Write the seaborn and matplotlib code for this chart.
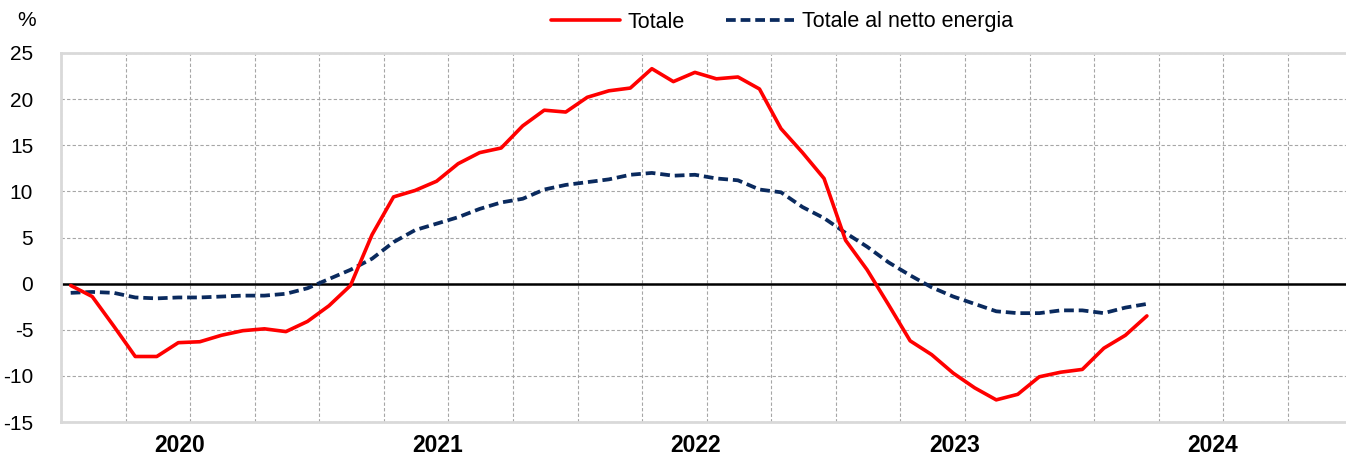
import numpy as np
import pandas as pd
import matplotlib
matplotlib.use("Agg")
import matplotlib.pyplot as plt
import seaborn as sns
from matplotlib import font_manager
from matplotlib.lines import Line2D

# Monthly data, Jan 2020 - Mar 2024 (var. % a/a)
totale = [-0.2, -1.4, -4.6, -7.9, -7.9, -6.4, -6.3, -5.6, -5.1, -4.9,
          -5.2, -4.1, -2.4, -0.2, 5.3, 9.4, 10.1, 11.1, 13.0, 14.2,
          14.7, 17.1, 18.8, 18.6, 20.2, 20.9, 21.2, 23.3, 21.9, 22.9,
          22.2, 22.4, 21.1, 16.8, 14.2, 11.4, 4.7, 1.5, -2.3, -6.2,
          -7.7, -9.7, -11.3, -12.6, -12.0, -10.1, -9.6, -9.3, -7.0, -5.6,
          -3.5]
netto_energia = [-1.0, -0.9, -1.0, -1.5, -1.6, -1.5, -1.5, -1.4, -1.3, -1.3,
                 -1.1, -0.5, 0.5, 1.5, 2.7, 4.5, 5.8, 6.5, 7.2, 8.1,
                 8.8, 9.2, 10.2, 10.7, 11.0, 11.3, 11.8, 12.0, 11.7, 11.8,
                 11.4, 11.2, 10.2, 9.9, 8.3, 7.1, 5.5, 4.0, 2.3, 0.9,
                 -0.4, -1.4, -2.2, -3.0, -3.2, -3.2, -2.9, -2.9, -3.2, -2.6,
                 -2.2]
anni = ["2020", "2021", "2022", "2023", "2024"]

df = pd.DataFrame({"mese": np.arange(len(totale)) + 0.45,
                   "Totale": totale,
                   "Totale al netto energia": netto_energia})

sns.set_style("white")
names = {f.name for f in font_manager.fontManager.ttflist}
narrow = "Liberation Sans Narrow" if "Liberation Sans Narrow" in names else "Liberation Sans"
plt.rcParams["font.family"] = ["Liberation Sans", "DejaVu Sans"]
plt.rcParams["axes.unicode_minus"] = False
plt.rcParams["text.color"] = "black"
plt.rcParams["xtick.color"] = "black"
plt.rcParams["ytick.color"] = "black"

RED = "#FF0000"
NAVY = "#0A2A5E"
DASH = (0, (2.6, 1.3))

fig = plt.figure(figsize=(13.46, 4.57), dpi=100)
ax = fig.add_axes([61 / 1346, 1 - 422 / 457, 1 - 61 / 1346, (422 - 53) / 457])

# grid (quarters and 5-point steps)
ax.set_xlim(0, 59.7)
ax.set_ylim(-15, 25)
ax.set_yticks(np.arange(-15, 26, 5))
ax.set_xticks(np.arange(0, 60, 3))
ax.set_xticklabels([])
ax.set_xticks(np.arange(len(anni)) * 12 + 5.5, minor=True)
ax.set_xticklabels(anni, minor=True, fontsize=16.5, fontweight="bold", family=narrow)
ax.tick_params(axis="x", which="both", length=0, pad=9)
ax.tick_params(axis="y", length=0, pad=20, labelsize=15)
ax.grid(True, which="major", color="#A6A6A6", linestyle=(0, (3, 2)), linewidth=0.8)
ax.axhline(0, color="black", linewidth=1.8, zorder=2)

for side in ["left", "top", "bottom"]:
    ax.spines[side].set_color("#D9D9D9")
    ax.spines[side].set_linewidth(2)
ax.spines["right"].set_visible(False)

sns.lineplot(data=df, x="mese", y="Totale", color=RED, linewidth=2.6, ax=ax, zorder=4)
sns.lineplot(data=df, x="mese", y="Totale al netto energia", color=NAVY, linewidth=2.7,
             linestyle=DASH, ax=ax, zorder=3)
ax.set_xlabel("")
ax.set_ylabel("")

fig.text(27 / 1346, 1 - 20 / 457, "%", fontsize=15, ha="center", va="center")

handles = [Line2D([], [], color=RED, linewidth=2.6),
           Line2D([], [], color=NAVY, linewidth=2.7, linestyle=DASH)]
fig.legend(handles, ["Totale", "Totale al netto energia"], loc="center",
           bbox_to_anchor=(782 / 1346, 1 - 22 / 457), ncol=2, frameon=False,
           prop={"family": narrow, "size": 15.5}, handlelength=3.2,
           handletextpad=0.35, columnspacing=1.9)

fig.savefig("out.png", dpi=100)
